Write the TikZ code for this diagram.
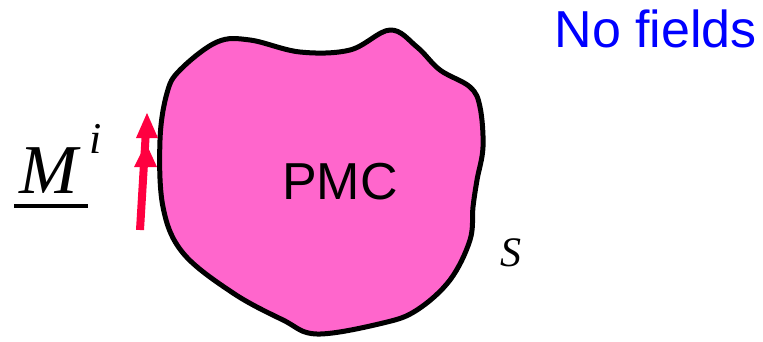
\documentclass[tikz,border=0pt]{standalone}
\usepackage{fontspec}
\setmainfont{Liberation Serif}
\newfontfamily\arialf{Liberation Sans}
\definecolor{pmcpink}{HTML}{FF66CC}
\definecolor{arrowred}{HTML}{FF0040}
\definecolor{fieldblue}{HTML}{0000FF}
\begin{document}
\begin{tikzpicture}[x=1pt,y=-1pt,
  sans/.style={font=\arialf\fontsize{52}{52}\selectfont, inner sep=0pt},
  ital/.style={font=\itshape, inner sep=0pt}]
\useasboundingbox (0,0) rectangle (763,341);
% blob
\draw[line width=5pt, fill=pmcpink, line join=round]
  plot[smooth cycle, tension=0.6] coordinates {
  (180,70) (217,42) (250,40) (300,52) (350,50) (390,30) (417,47)
  (440,70) (470,87) (480,107) (483,147) (477,180) (473,207) (470,240)
  (450,280) (417,310) (383,323) (317,334) (283,320) (233,293)
  (183,253) (163,207) (160,140) (167,93)};
\node[sans] (pmc) at (340,182) {PMC};
\node[sans, text=fieldblue, anchor=north east] (nf) at (757,10) {No fields};
\node[ital, font=\itshape\fontsize{42}{42}\selectfont] (s) at (511,253) {S};
\node[ital, font=\itshape\fontsize{70}{70}\selectfont] (m) at (49,171) {M};
\node[ital, font=\itshape\fontsize{44}{44}\selectfont] (i) at (96,139) {i};
\coordinate (ul1) at (14,206);
\coordinate (ul2) at (88,206);
\draw[line width=4pt] (ul1) -- (ul2);
% arrow
\coordinate (a0) at (140,230);
\coordinate (a1) at (146,130);
\draw[arrowred, line width=8pt] (a0) -- (a1);
\fill[arrowred] (147,113) -- (158,138) -- (136,138) -- cycle;
\fill[arrowred] (146,143) -- (157,167) -- (134,167) -- cycle;
\end{tikzpicture}
\end{document}
